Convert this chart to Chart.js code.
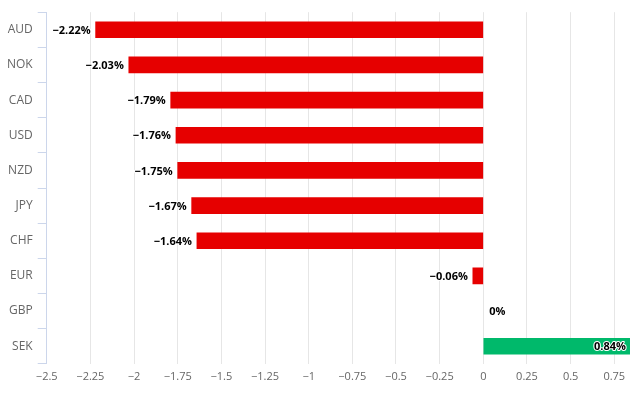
<!DOCTYPE html>
<html>
<head>
<meta charset="utf-8">
<script src="https://cdn.jsdelivr.net/npm/chart.js@4"></script>
<style>
  body { margin: 0; background: #fff; }
  #wrap { width: 637px; height: 396px; }
</style>
</head>
<body>
<div id="wrap"><canvas id="chart" width="637" height="396"></canvas></div>
<script>
// currency performance, percent
const currencies = ['AUD', 'NOK', 'CAD', 'USD', 'NZD', 'JPY', 'CHF', 'EUR', 'GBP', 'SEK'];
const changes = [-2.22, -2.03, -1.79, -1.76, -1.75, -1.67, -1.64, -0.06, 0, 0.84];
const xTicks = [-2.5, -2.25, -2, -1.75, -1.5, -1.25, -1, -0.75, -0.5, -0.25, 0, 0.25, 0.5, 0.75];

const RED = '#e60000';
const GREEN = '#00b96b';
const FONT = '"Open Sans", "Noto Sans", sans-serif';

function fmt(v) {
    return String(v).replace('-', '\u2212');
}

// value labels next to bar ends, white outline like the original
const valueLabels = {
    id: 'valueLabels',
    afterDatasetsDraw(chart) {
        const ctx = chart.ctx;
        const meta = chart.getDatasetMeta(0);
        const zeroX = chart.scales.x.getPixelForValue(0);
        ctx.save();
        ctx.font = 'bold 11px ' + FONT;
        ctx.textBaseline = 'middle';
        ctx.lineJoin = 'round';
        meta.data.forEach((bar, i) => {
            const v = changes[i];
            const text = fmt(v) + '%';
            let x;
            if (v < 0) {
                ctx.textAlign = 'right';
                x = bar.x - 5;
            } else if (v === 0) {
                ctx.textAlign = 'left';
                x = zeroX + 6;
            } else {
                ctx.textAlign = 'right';
                x = bar.x - 4;
            }
            ctx.strokeStyle = '#fff';
            ctx.lineWidth = 2;
            ctx.strokeText(text, x, bar.y + 1);
            ctx.fillStyle = '#000';
            ctx.fillText(text, x, bar.y + 1);
        });
        ctx.restore();
    }
};

new Chart(document.getElementById('chart'), {
    type: 'bar',
    data: {
        labels: currencies,
        datasets: [{
            data: changes,
            backgroundColor: changes.map(v => v < 0 ? RED : (v > 0 ? GREEN : 'rgba(0,0,0,0)')),
            borderWidth: 0,
            barThickness: 16
        }]
    },
    options: {
        indexAxis: 'y',
        responsive: false,
        animation: false,
        layout: { padding: { top: 7, right: 7, bottom: 7, left: 2 } },
        plugins: {
            legend: { display: false },
            tooltip: { enabled: false }
        },
        scales: {
            x: {
                min: -2.5,
                max: 0.84,
                ticks: {
                    color: '#666',
                    font: { family: FONT, size: 11 },
                    padding: 6,
                    callback: v => v === 0 ? '0' : fmt(v)
                },
                afterBuildTicks(scale) {
                    scale.ticks = xTicks.map(v => ({ value: v }));
                },
                grid: {
                    color: '#e6e6e6',
                    drawTicks: false
                },
                border: { display: false }
            },
            y: {
                ticks: {
                    color: '#666',
                    font: { family: FONT, size: 12 },
                    padding: 5
                },
                grid: {
                    offset: true,
                    drawOnChartArea: false,
                    drawTicks: true,
                    tickLength: 9,
                    color: '#ccd6eb'
                },
                border: { color: '#ccd6eb' }
            }
        }
    },
    plugins: [valueLabels]
});
</script>
</body>
</html>
